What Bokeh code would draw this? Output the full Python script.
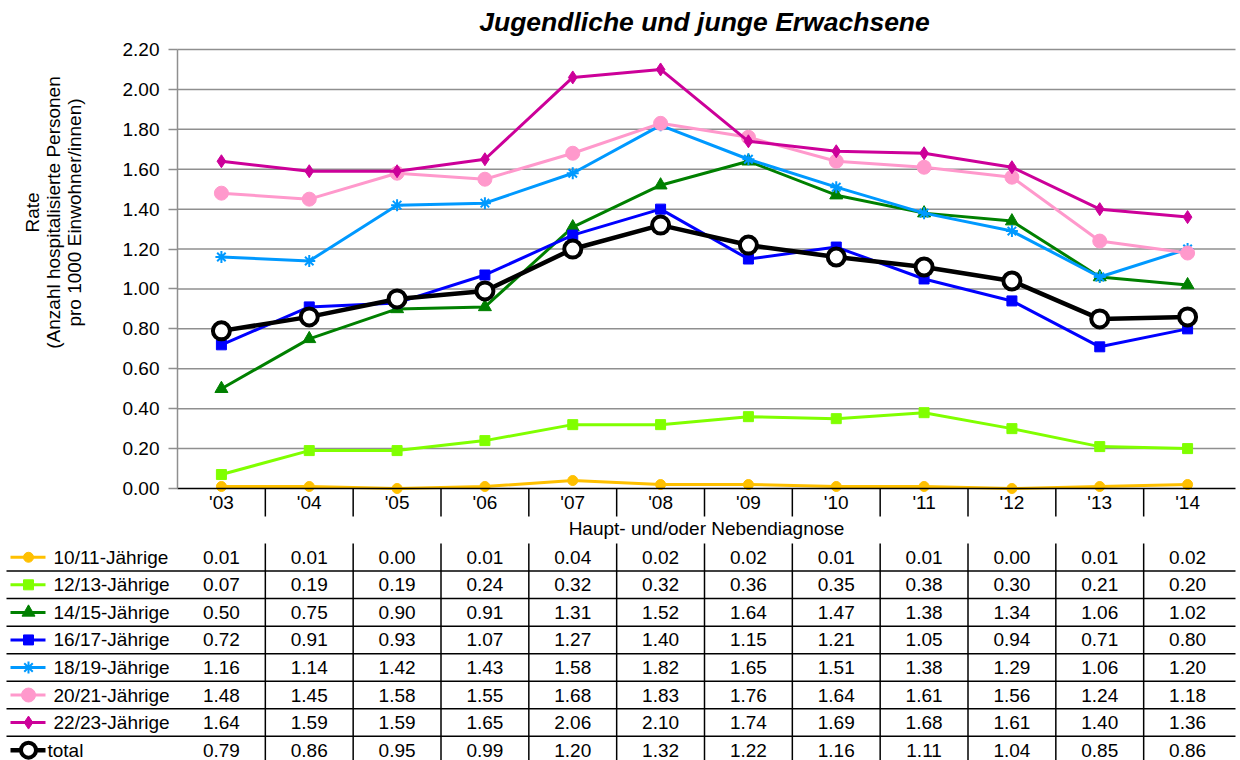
from bokeh.plotting import figure
from bokeh.models import Range1d, FixedTicker, NumeralTickFormatter, LinearAxis
from bokeh.embed import file_html
from bokeh.resources import INLINE
from bokeh.core.properties import value

# ---------------- data ----------------
years = ["'03", "'04", "'05", "'06", "'07", "'08", "'09", "'10", "'11", "'12", "'13", "'14"]
names = ["10/11-Jährige", "12/13-Jährige", "14/15-Jährige", "16/17-Jährige",
         "18/19-Jährige", "20/21-Jährige", "22/23-Jährige", "total"]
v_10_11 = [0.01, 0.01, 0.00, 0.01, 0.04, 0.02, 0.02, 0.01, 0.01, 0.00, 0.01, 0.02]
v_12_13 = [0.07, 0.19, 0.19, 0.24, 0.32, 0.32, 0.36, 0.35, 0.38, 0.30, 0.21, 0.20]
v_14_15 = [0.50, 0.75, 0.90, 0.91, 1.31, 1.52, 1.64, 1.47, 1.38, 1.34, 1.06, 1.02]
v_16_17 = [0.72, 0.91, 0.93, 1.07, 1.27, 1.40, 1.15, 1.21, 1.05, 0.94, 0.71, 0.80]
v_18_19 = [1.16, 1.14, 1.42, 1.43, 1.58, 1.82, 1.65, 1.51, 1.38, 1.29, 1.06, 1.20]
v_20_21 = [1.48, 1.45, 1.58, 1.55, 1.68, 1.83, 1.76, 1.64, 1.61, 1.56, 1.24, 1.18]
v_22_23 = [1.64, 1.59, 1.59, 1.65, 2.06, 2.10, 1.74, 1.69, 1.68, 1.61, 1.40, 1.36]
v_total = [0.79, 0.86, 0.95, 0.99, 1.20, 1.32, 1.22, 1.16, 1.11, 1.04, 0.85, 0.86]
y_ticks = [0.0, 0.2, 0.4, 0.6, 0.8, 1.0, 1.2, 1.4, 1.6, 1.8, 2.0, 2.2]
title_text = "Jugendliche und junge Erwachsene"
y_label_lines = ["Rate", "(Anzahl hospitalisierte Personen", "pro 1000 Einwohner/innen)"]
x_label_text = "Haupt- und/oder Nebendiagnose"

all_values = [v_10_11, v_12_13, v_14_15, v_16_17, v_18_19, v_20_21, v_22_23, v_total]

# ---------------- styles / layout constants (canvas pixels) ----------------
colors = ["#FFC000", "#80FF00", "#008000", "#0000FF", "#0099FF", "#FF99CC", "#CC0099", "#000000"]
markers = ["circle", "square", "triangle", "square", "asterisk", "circle", "diamond", "circle"]
msizes = [10, 10, 13, 10, 12, 14, 13, 17]
lwidths = [3, 3, 3, 3, 3, 3, 3, 4.5]

FONT = "Liberation Sans"
FS = "19px"
W, H = 1240, 760
PLOT_L, PLOT_R = 177, 1231
PLOT_T, PLOT_B = 49, 488
EDGE_R = 1235
TABLE_TOP = 543
ROW_H = 27.55
SEP_LEN = 28
GRID_COLOR = "#8f8f8f"

n = len(years)
xs = list(range(n))
Y_MAX = 2.2
ppu = (PLOT_R - PLOT_L) / n
ppy = (PLOT_B - PLOT_T) / Y_MAX
x_start = -0.5 - PLOT_L / ppu
x_end = n - 0.5 + (W - PLOT_R) / ppu
y_top = Y_MAX + PLOT_T / ppy
y_bottom = -(H - PLOT_B) / ppy


def dx(px):
    return x_start + px / ppu


def dy(py):
    return y_top - py / ppy


p = figure(width=W, height=H, x_range=Range1d(x_start, x_end), y_range=Range1d(y_bottom, y_top),
           output_backend="svg", toolbar_location=None, x_axis_type=None, y_axis_type=None,
           min_border=0)
p.title.visible = False
p.outline_line_color = None
p.background_fill_color = "white"
p.border_fill_color = "white"

# grid lines
grid_y = [t for t in y_ticks if t > 0]
p.segment(x0=[-0.5] * len(grid_y), y0=grid_y, x1=[dx(EDGE_R)] * len(grid_y), y1=grid_y,
          line_color=GRID_COLOR, line_width=1.5)

# category separators below the x axis
seps = [i + 0.5 for i in range(n - 1)]
p.segment(x0=seps, y0=[0] * len(seps), x1=seps, y1=[dy(PLOT_B + SEP_LEN)] * len(seps),
          line_color="black", line_width=1.5)

# y axis
ya = LinearAxis(fixed_location=-0.5, bounds=(0, Y_MAX), ticker=FixedTicker(ticks=y_ticks),
                formatter=NumeralTickFormatter(format="0.00"))
ya.axis_line_color = GRID_COLOR
ya.axis_line_width = 1.5
ya.major_tick_line_color = GRID_COLOR
ya.major_tick_line_width = 1.5
ya.major_tick_out = 9
ya.major_tick_in = 0
ya.minor_tick_line_color = None
ya.major_label_text_font = FONT
ya.major_label_text_font_size = FS
ya.major_label_text_color = "black"
ya.major_label_standoff = 9
p.add_layout(ya, "left")

# x axis
xa = LinearAxis(fixed_location=0, bounds=(-0.5, dx(EDGE_R)), ticker=FixedTicker(ticks=xs, minor_ticks=[]))
xa.major_label_overrides = {i: lab for i, lab in enumerate(years)}
xa.major_tick_out = 0
xa.major_tick_in = 0
xa.minor_tick_line_color = None
xa.axis_line_color = "black"
xa.axis_line_width = 1.5
xa.major_label_text_font = FONT
xa.major_label_text_font_size = FS
xa.major_label_text_color = "black"
xa.major_label_standoff = 3
xa.axis_label = x_label_text
xa.axis_label_text_font = FONT
xa.axis_label_text_font_size = FS
xa.axis_label_text_font_style = "normal"
xa.axis_label_text_color = "black"
xa.axis_label_standoff = 2
p.add_layout(xa, "below")

# series
for vals, c, m, s, lw in zip(all_values, colors, markers, msizes, lwidths):
    p.line(xs, vals, line_color=c, line_width=lw)
    if c == "#000000":
        p.scatter(xs, vals, marker=m, size=s, fill_color="white", line_color=c, line_width=4)
    elif m == "asterisk":
        p.scatter(xs, vals, marker=m, size=s, line_color=c, line_width=2)
    else:
        p.scatter(xs, vals, marker=m, size=s, fill_color=c, line_color=c)

# title and y-axis title
p.text(x=[(n - 1) / 2], y=[dy(21)], text=[title_text], text_font=value(FONT), text_font_size="26.5px",
       text_font_style="bold italic", text_color="black", text_align="center", text_baseline="middle")
p.text(x=[dx(32), dx(53), dx(74)], y=[dy(212)] * 3, text=y_label_lines, angle=1.5707963,
       text_font=value(FONT), text_font_size=FS, text_color="black",
       text_align="center", text_baseline="middle")

# ---------------- data table with legend keys ----------------
n_rows = len(names)
row_lines = [dy(TABLE_TOP + r * ROW_H) for r in range(1, n_rows)]
p.segment(x0=[dx(6)] * len(row_lines), y0=row_lines, x1=[dx(EDGE_R)] * len(row_lines), y1=row_lines,
          line_color="black", line_width=1.5)
p.segment(x0=seps, y0=[dy(TABLE_TOP)] * len(seps), x1=seps, y1=[y_bottom] * len(seps),
          line_color="black", line_width=1.5)

for r, (nm, vals, c, m, s, lw) in enumerate(zip(names, all_values, colors, markers, msizes, lwidths)):
    yc = dy(TABLE_TOP + (r + 0.5) * ROW_H)
    p.text(x=xs, y=[yc] * n, text=["%.2f" % v for v in vals], text_font=value(FONT),
           text_font_size=FS, text_color="black", text_align="center", text_baseline="middle")
    p.line([dx(10), dx(45)], [yc, yc], line_color=c, line_width=lw)
    if c == "#000000":
        p.scatter([dx(28)], [yc], marker=m, size=s - 2, fill_color="white", line_color=c, line_width=4)
        tx = dx(47)
    elif m == "asterisk":
        p.scatter([dx(28)], [yc], marker=m, size=s, line_color=c, line_width=2)
        tx = dx(53)
    else:
        p.scatter([dx(28)], [yc], marker=m, size=s, fill_color=c, line_color=c)
        tx = dx(53)
    p.text(x=[tx], y=[yc], text=[nm], text_font=value(FONT), text_font_size=FS,
           text_color="black", text_align="left", text_baseline="middle")

open("out.html", "w").write(file_html(p, INLINE))
